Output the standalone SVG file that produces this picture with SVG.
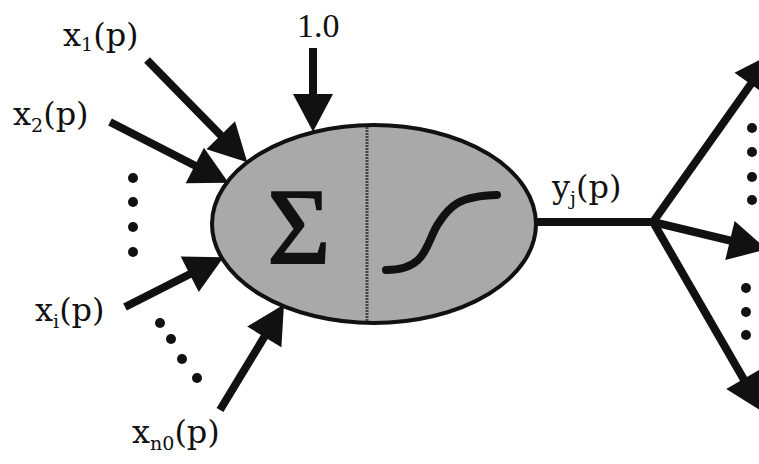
<svg xmlns="http://www.w3.org/2000/svg" width="759" height="464" viewBox="0 0 759 464">
<style>
.lbl{font-family:"DejaVu Serif","Liberation Serif",serif;font-size:32px;fill:#111}
.sub{font-size:19px}
.ln{stroke:#111;stroke-width:8;fill:none;stroke-linecap:butt}
.dot{fill:#111}
</style>
<defs>
<marker id="ah" markerUnits="userSpaceOnUse" markerWidth="40" markerHeight="40" viewBox="0 0 36 38" refX="2" refY="19" orient="auto" overflow="visible">
<path d="M0,0 L36,19 L0,38 z" fill="#111"/>
</marker>
</defs>
<rect width="759" height="464" fill="#fff"/>

<g id="neuron">
<ellipse cx="374" cy="224" rx="162" ry="99" fill="#a9a9a9" stroke="#111" stroke-width="4"/>
<line x1="367" y1="127" x2="367" y2="321" stroke="#444" stroke-width="3" stroke-dasharray="2 1"/>
<text x="299" y="263" text-anchor="middle" font-family="Liberation Serif, DejaVu Serif, serif" font-size="108" fill="#111" stroke="#111" stroke-width="2">Σ</text>
<path d="M386,270 C428,270 426,242 438,224 C450,205 460,196 497,195" stroke="#111" stroke-width="8" fill="none" stroke-linecap="round"/>
</g>

<g id="labels">
<text x="297" y="37" font-family="Liberation Serif, DejaVu Serif, serif" font-size="34" fill="#111">1.0</text>
<text class="lbl" x="63" y="46">x<tspan class="sub" dy="5">1</tspan><tspan dy="-5">(p)</tspan></text>
<text class="lbl" x="13" y="125">x<tspan class="sub" dy="7">2</tspan><tspan dy="-7">(p)</tspan></text>
<text class="lbl" x="35" y="321">x<tspan class="sub" dy="7">i</tspan><tspan dy="-7">(p)</tspan></text>
<text class="lbl" x="132" y="443">x<tspan class="sub" dy="7" font-size="17">n0</tspan><tspan dy="-7">(p)</tspan></text>
<text class="lbl" x="552" y="198">y<tspan class="sub" dy="7">j</tspan><tspan dy="-7">(p)</tspan></text>
</g>

<g id="dots">
<circle class="dot" cx="133" cy="178" r="5"/>
<circle class="dot" cx="133" cy="202" r="5"/>
<circle class="dot" cx="133" cy="227" r="5"/>
<circle class="dot" cx="133" cy="252" r="5"/>
<circle class="dot" cx="160" cy="323" r="5"/>
<circle class="dot" cx="171" cy="339" r="5"/>
<circle class="dot" cx="182" cy="359" r="5"/>
<circle class="dot" cx="197" cy="378" r="5"/>
<circle class="dot" cx="752" cy="128" r="5"/>
<circle class="dot" cx="752" cy="152" r="5"/>
<circle class="dot" cx="752" cy="177" r="5"/>
<circle class="dot" cx="752" cy="200" r="5"/>
<circle class="dot" cx="746" cy="288" r="5"/>
<circle class="dot" cx="746" cy="312" r="5"/>
<circle class="dot" cx="746" cy="335" r="5"/>
</g>

<g id="connectors">
<line class="ln" x1="313" y1="48" x2="313" y2="96" marker-end="url(#ah)"/>
<line class="ln" x1="147" y1="60" x2="222.2" y2="136.7" marker-end="url(#ah)"/>
<line class="ln" x1="110" y1="122" x2="196.7" y2="166.5" marker-end="url(#ah)"/>
<line class="ln" x1="125" y1="307" x2="191.6" y2="273.3" marker-end="url(#ah)"/>
<line class="ln" x1="220" y1="410" x2="265.4" y2="335.1" marker-end="url(#ah)"/>
<line class="ln" x1="537" y1="222" x2="653" y2="222" stroke-width="7"/>
<line class="ln" x1="653" y1="222" x2="752" y2="82.5" stroke-width="6" marker-end="url(#ah)"/>
<line class="ln" x1="653" y1="222" x2="732" y2="241" stroke-width="7" marker-end="url(#ah)"/>
<line class="ln" x1="653" y1="222" x2="744.6" y2="380.8" stroke-width="6" marker-end="url(#ah)"/>
</g>
</svg>
